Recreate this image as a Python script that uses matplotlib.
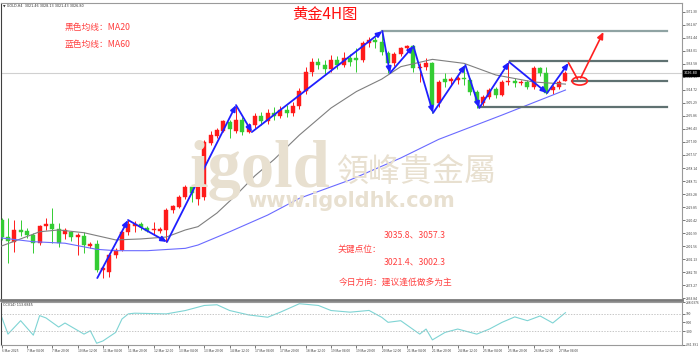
import matplotlib
matplotlib.use("Agg")
import matplotlib.pyplot as plt
from matplotlib.patches import Ellipse

plt.rcParams['font.family'] = ['Noto Sans CJK SC', 'DejaVu Sans']

# 4H bars from 6 Mar 12:00 to 27 Mar 08:00 (index = bar number)
opens = [2920.5, 2908.0, 2904.6, 2913.0, 2912.5, 2909.6, 2903.9, 2916.2, 2917.6, 2914.0,
         2910.5, 2912.0, 2908.0, 2909.0, 2901.6, 2903.0, 2884.3, 2882.9, 2895.0, 2898.8,
         2911.5, 2916.2, 2917.5, 2915.0, 2913.0, 2912.5, 2913.3, 2927.8, 2930.0, 2937.2,
         2944.4, 2936.0, 2937.0, 2976.0, 2981.5, 2984.9, 2991.5, 2985.0, 2993.0, 2984.5,
         2989.0, 2996.0, 2992.0, 2998.0, 2996.0, 3000.5, 2998.0, 3003.0, 3014.0, 3028.0,
         3035.0, 3033.0, 3030.0, 3036.0, 3033.0, 3038.0, 3038.0, 3036.0, 3048.6, 3050.8,
         3049.3, 3041.5, 3034.0, 3041.0, 3045.0, 3046.5, 3030.3, 3031.5, 3034.0, 3005.0,
         3022.3, 3020.8, 3021.8, 3023.0, 3021.8, 3013.4, 3005.4, 3009.3, 3015.0, 3011.0,
         3020.6, 3021.2, 3019.4, 3020.6, 3017.0, 3030.3, 3027.0, 3014.6, 3017.0, 3021.46]
highs = [2922.0, 2922.0, 2920.5, 2920.5, 2915.0, 2911.0, 2917.0, 2922.0, 2929.0, 2918.3,
         2914.7, 2912.5, 2911.0, 2911.8, 2904.6, 2906.0, 2887.0, 2896.6, 2900.0, 2913.3,
         2920.5, 2919.5, 2919.0, 2916.5, 2919.0, 2915.5, 2929.0, 2931.4, 2938.5, 2945.9,
         2944.8, 2946.0, 2978.4, 2984.9, 2987.0, 2993.0, 2993.0, 3003.7, 2995.0, 2991.0,
         2998.0, 2999.0, 3001.0, 3002.0, 3003.0, 3004.0, 3006.0, 3016.0, 3031.0, 3038.0,
         3038.0, 3036.0, 3040.0, 3039.0, 3042.0, 3041.0, 3045.0, 3050.0, 3053.0, 3053.0,
         3057.3, 3043.0, 3042.0, 3046.0, 3047.0, 3047.5, 3034.0, 3037.5, 3035.0, 3022.0,
         3026.7, 3024.0, 3025.0, 3032.7, 3023.0, 3014.5, 3011.0, 3016.0, 3016.5, 3022.0,
         3034.6, 3023.0, 3022.0, 3022.0, 3032.0, 3031.5, 3031.5, 3018.5, 3021.5, 3028.13]
lows = [2906.0, 2889.5, 2897.0, 2909.0, 2907.5, 2896.6, 2902.5, 2913.3, 2904.0, 2901.0,
        2907.0, 2905.0, 2895.0, 2896.6, 2900.0, 2882.9, 2878.5, 2878.9, 2893.0, 2898.0,
        2910.0, 2912.0, 2913.0, 2912.0, 2909.6, 2911.0, 2904.6, 2925.6, 2929.0, 2936.0,
        2933.6, 2931.5, 2935.0, 2974.8, 2979.8, 2984.0, 2979.9, 2983.5, 2982.0, 2983.5,
        2987.0, 2989.0, 2990.0, 2993.0, 2994.0, 2995.0, 2996.0, 3001.0, 3012.0, 3025.0,
        3030.0, 3026.0, 3028.0, 3030.0, 3031.0, 3032.0, 3028.0, 3035.0, 3046.0, 3045.0,
        3040.0, 3027.0, 3032.0, 3039.0, 3043.0, 3028.0, 3020.6, 3029.0, 2998.2, 3002.0,
        3017.0, 3018.0, 3019.0, 3018.0, 3011.0, 3001.8, 3003.0, 3008.0, 3009.0, 3010.0,
        3018.0, 3017.0, 3018.0, 3015.0, 3015.0, 3025.0, 3011.5, 3012.0, 3015.5, 3021.43]
closes = [2908.0, 2905.0, 2913.3, 2911.5, 2909.6, 2903.9, 2916.2, 2917.6, 2914.0, 2903.9,
          2913.0, 2908.2, 2909.6, 2902.5, 2903.0, 2884.3, 2886.0, 2895.2, 2898.8, 2911.8,
          2917.6, 2917.6, 2915.2, 2912.5, 2914.0, 2914.0, 2927.8, 2930.6, 2937.2, 2944.4,
          2940.0, 2945.1, 2977.0, 2982.0, 2985.7, 2992.2, 2986.4, 2993.0, 2984.5, 2989.0,
          2996.0, 2992.0, 2998.0, 2996.0, 3000.5, 2998.0, 3003.0, 3014.0, 3028.0, 3035.0,
          3033.0, 3030.0, 3036.0, 3033.0, 3038.0, 3035.0, 3036.0, 3048.6, 3050.8, 3049.3,
          3042.0, 3034.0, 3041.0, 3045.0, 3046.5, 3030.3, 3031.5, 3034.0, 3003.8, 3020.6,
          3020.6, 3022.3, 3023.0, 3022.3, 3013.4, 3005.4, 3009.3, 3014.6, 3011.0, 3020.6,
          3021.2, 3019.4, 3020.6, 3017.0, 3030.3, 3026.7, 3012.7, 3017.0, 3020.6, 3026.80]

# moving averages (bar, price)
ma20_bars = [0, 6, 9, 13, 18, 22, 26, 29, 31, 34, 37, 40, 43, 47, 52, 56, 60, 63, 68, 73, 78, 84, 89]
ma20_vals = [2901.7, 2912.0, 2913.3, 2911.3, 2906.1, 2906.8, 2908.2, 2913.3, 2915.7, 2925.6,
             2938.5, 2952.6, 2964.3, 2982.0, 3001.6, 3013.5, 3022.5, 3031.5, 3036.8, 3033.9,
             3025.5, 3020.4, 3018.9]
ma60_bars = [0, 5, 10, 15, 18, 23, 29, 31, 36, 42, 47, 55, 63, 69, 79, 89]
ma60_vals = [2907.5, 2904.8, 2903.7, 2899.3, 2898.3, 2898.3, 2900.0, 2902.4, 2912.0, 2924.1,
             2936.2, 2949.5, 2965.4, 2978.9, 2996.5, 3014.6]

# CCI(14)
cci_bars = [0, 1, 3, 5, 6, 7, 9, 10, 13, 14, 15, 16, 18, 19, 20, 21, 26, 29, 32, 34, 36, 39,
            42, 44, 47, 50, 52, 55, 58, 60, 61, 63, 66, 67, 68, 70, 72, 75, 77, 79, 81, 83,
            85, 87, 89]
cci_vals = [65, -135, 21, -147, 80, 53, -53, -6, -135, -96, -241, -214, -115, 41, 100, 108,
            100, 139, 198, 206, 139, 88, 61, 120, 218, 198, 139, 120, 140, 60, 2, 21, -135,
            -76, -202, -115, -76, -135, -76, 2, 65, 21, 76, -6, 114]

# hand-drawn trend lines
zig_bars = [15.1, 19.95, 26.1, 37.0, 39.5, 60.1, 61.3, 65.0, 68.1, 73.2, 75.4, 80.1, 86.1, 89.5]
zig_prices = [2878.5, 2920.5, 2904.6, 3003.7, 2984.2, 3057.3, 3026.9, 3046.4, 2998.0, 3032.7,
              3001.6, 3034.9, 3012.4, 3034.2]
red_bars = [89.5, 90.9, 91.4, 95.0]
red_prices = [3034.2, 3022.6, 3023.3, 3056.6]
level_prices = [3057.3, 3035.8, 3021.4, 3002.3]
level_start = [60.1, 80.3, 90.1, 75.4]
level_end = 105.1
last_price = 3026.80

price_ticks = [2863.84 + 9.43 * k for k in range(23)]
time_bars = [0] + list(range(4, 89, 4))
time_labels = ["6 Mar 2025", "7 Mar 04:00", "7 Mar 20:00", "10 Mar 12:00", "11 Mar 04:00",
               "11 Mar 20:00", "12 Mar 12:00", "13 Mar 04:00", "13 Mar 20:00", "14 Mar 12:00",
               "17 Mar 04:00", "17 Mar 20:00", "18 Mar 12:00", "19 Mar 04:00", "19 Mar 20:00",
               "20 Mar 12:00", "21 Mar 04:00", "21 Mar 20:00", "24 Mar 12:00", "25 Mar 04:00",
               "25 Mar 20:00", "26 Mar 12:00", "27 Mar 04:00"]

UP = "#ff1a1a"
DOWN = "#33cc33"
TXT = "#ff4040"
WM = "#e8e0d0"

fig = plt.figure(figsize=(7, 3.54), dpi=100)
ax = fig.add_axes([1 / 700, 54 / 354, 681 / 700, 297 / 354])
cax = fig.add_axes([1 / 700, 9 / 354, 681 / 700, 43 / 354])
xlim = (-0.1, 107.4)

# watermark
fig.text(190 / 700, 1 - 187 / 354, "igold", fontsize=48, family="Liberation Serif",
         weight="bold", color=WM, ha="left", va="baseline", zorder=0)
fig.text(336 / 700, 1 - 172 / 354, "領峰貴金屬", fontsize=23, color=WM, ha="left",
         va="center", zorder=0)
fig.text(247 / 700, 1 - 201 / 354, "www.igoldhk.com", fontsize=15, family="DejaVu Sans",
         weight="bold", color=WM, ha="left", va="center", zorder=0)
ax.patch.set_alpha(0)

# candles
for i in range(len(closes)):
    o, h, l, c = opens[i], highs[i], lows[i], closes[i]
    col = UP if c >= o else DOWN
    ax.vlines(i, l, h, color=col, lw=0.7, zorder=2)
    ax.bar(i, max(abs(c - o), 0.4), bottom=min(o, c), width=0.62, color=col,
           edgecolor=col, lw=0.3, zorder=3)

ax.plot(ma20_bars, ma20_vals, color="#7f7f7f", lw=0.8, zorder=4)
ax.plot(ma60_bars, ma60_vals, color="#6a6aff", lw=0.8, zorder=4)

ax.axhline(last_price, color="#d0d0d0", lw=0.8, zorder=1)
for p, s in zip(level_prices, level_start):
    col = "#8fa3a3" if p == level_prices[0] else "#5f7171"
    ax.plot([s, level_end], [p, p], color=col, lw=1.6, zorder=5)

for k in range(len(zig_bars) - 1):
    ax.annotate("", xy=(zig_bars[k + 1], zig_prices[k + 1]), xytext=(zig_bars[k], zig_prices[k]),
                arrowprops=dict(arrowstyle="-|>,head_length=0.35,head_width=0.15",
                                color="#1f1fff", lw=1.3, shrinkA=0, shrinkB=0), zorder=6)
ax.plot(red_bars[:2], red_prices[:2], color="#ff2020", lw=1.2, zorder=6)
ax.annotate("", xy=(red_bars[3], red_prices[3]), xytext=(red_bars[2], red_prices[2]),
            arrowprops=dict(arrowstyle="-|>,head_length=0.4,head_width=0.18",
                            color="#ff2020", lw=1.2, shrinkA=0, shrinkB=0), zorder=6)
ax.add_patch(Ellipse((91.25, 3021.1), 2.4, 5.8, fill=False, edgecolor="#ff2020", lw=1.2,
                     zorder=6))

ax.set_xlim(*xlim)
ax.set_ylim(2862.6, 3077.6)
ax.yaxis.tick_right()
ax.set_yticks(price_ticks)
ax.set_yticklabels([f"{t:.2f}" for t in price_ticks])
ax.tick_params(axis="y", labelsize=2.4, length=2, width=0.5, pad=1, colors="#404040")
ax.set_xticks([])
for s in ax.spines.values():
    s.set_color("#9a9a9a")
    s.set_linewidth(0.8)
ax.spines["bottom"].set_linewidth(2)
ax.spines["bottom"].set_color("#7a7a7a")
ax.spines["left"].set_color("#404040")

# current price marker
ax.text(1.003, last_price, f"{last_price:.2f}", transform=ax.get_yaxis_transform(),
        fontsize=2.4, color="white", va="center", ha="left", family="DejaVu Sans",
        bbox=dict(boxstyle="square,pad=0.25", fc="black", ec="black"), clip_on=False)

# header
ax.text(0.003, 0.997, "▼ GOLD,H4  3021.46 3028.13 3021.43 3026.80", transform=ax.transAxes,
        fontsize=2.4, color="#303030", va="top", ha="left", family="DejaVu Sans")

# annotations
fig.text(325 / 700, 1 - 14.5 / 354, "黄金4H图", fontsize=11, color="#ff1010",
         ha="center", va="center")
fig.text(65 / 700, 1 - 27.5 / 354, "黑色均线：MA20", fontsize=6.3, color=TXT, va="center")
fig.text(65 / 700, 1 - 44 / 354, "蓝色均线：MA60", fontsize=6.3, color=TXT, va="center")
fig.text(384 / 700, 1 - 235 / 354, "3035.8、3057.3", fontsize=6.3, color=TXT, va="center")
fig.text(338 / 700, 1 - 249 / 354, "关键点位：", fontsize=6.3, color=TXT, va="center")
fig.text(384 / 700, 1 - 262 / 354, "3021.4、3002.3", fontsize=6.3, color=TXT, va="center")
fig.text(339 / 700, 1 - 282 / 354, "今日方向：建议逢低做多为主", fontsize=6.3, color=TXT,
         va="center")

# CCI panel
cax.plot(cci_bars, cci_vals, color="#7fd4d4", lw=0.8)
for lv in (100, -100):
    cax.axhline(lv, color="#b0b0b0", lw=0.5, ls=(0, (2, 2)))
cax.set_xlim(*xlim)
cax.set_ylim(-261.391, 238.0376)
cax.yaxis.tick_right()
cax.set_yticks([238.0376, 100, 0, -100, -261.391])
cax.set_yticklabels(["238.0376", "100", "0.00", "-100", "-261.391"])
cax.tick_params(axis="y", labelsize=2.4, length=2, width=0.5, pad=1, colors="#404040")
cax.set_xticks(time_bars)
cax.set_xticklabels(time_labels, ha="left")
cax.tick_params(axis="x", labelsize=2.4, length=2, width=0.5, pad=1, colors="#404040")
for s in cax.spines.values():
    s.set_color("#9a9a9a")
    s.set_linewidth(0.8)
cax.spines["left"].set_color("#404040")
cax.text(0.003, 0.97, "CCI(14) 113.6845", transform=cax.transAxes, fontsize=2.4,
         color="#303030", va="top", ha="left", family="DejaVu Sans")

fig.savefig("out.png", dpi=100)
